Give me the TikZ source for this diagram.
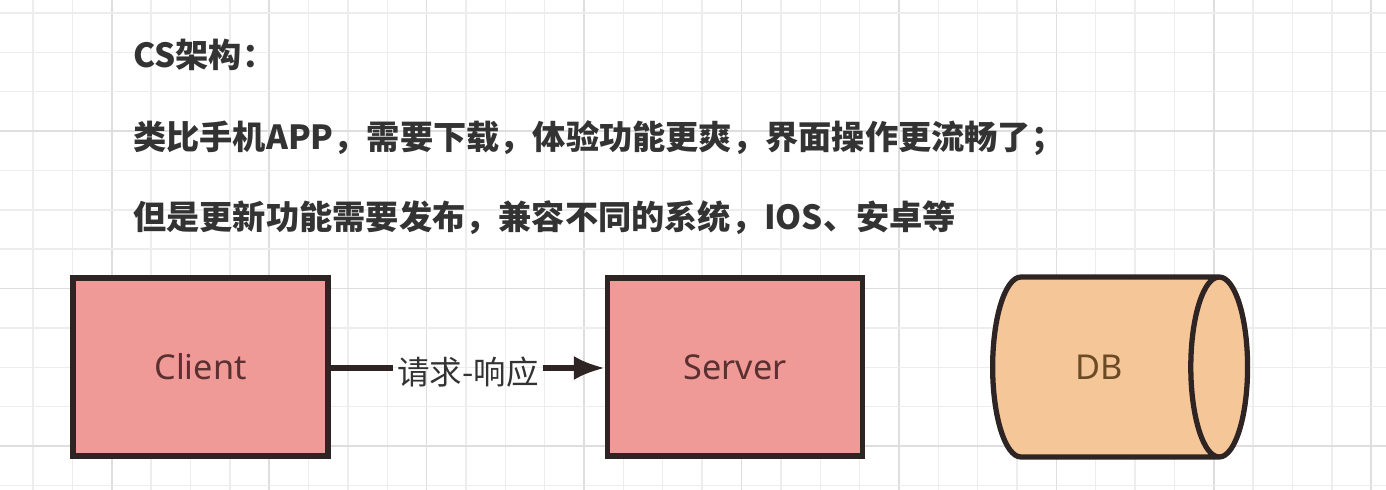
\documentclass[tikz,border=0pt]{standalone}
\usepackage{fontspec}
\setmainfont{Noto Sans}
\newfontfamily\cjk{Noto Sans CJK SC}
\usetikzlibrary{arrows.meta,positioning,shapes.geometric}

\definecolor{gridminor}{HTML}{EDEDED}
\definecolor{gridmajor}{HTML}{DEDEDE}
\definecolor{boxfill}{HTML}{F09A98}
\definecolor{dbfill}{HTML}{F5C698}
\definecolor{edgeline}{HTML}{2E2424}
\definecolor{txt}{HTML}{333333}
\definecolor{boxtxt}{HTML}{5A3030}
\definecolor{dbtxt}{HTML}{6B4A26}

\tikzset{
    box/.style={draw=edgeline, line width=3pt, fill=boxfill,
        minimum width=5.1cm, minimum height=3.56cm,
        text=boxtxt, font=\fontsize{19.5pt}{22pt}\selectfont},
    dbnode/.style={cylinder, draw=edgeline, line width=3pt, fill=dbfill,
        minimum height=5.1cm, minimum width=3.6cm, shape aspect=1.57,
        text=dbtxt, font=\fontsize{19.5pt}{22pt}\selectfont},
    headline/.style={anchor=west, text=txt, inner sep=0pt,
        font=\cjk\bfseries\fontsize{18.9pt}{21pt}\selectfont},
}

\begin{document}
\begin{tikzpicture}[x=0.02cm,y=-0.02cm]
    \pgfmathsetmacro{\gap}{39.36}
    % Draw background grid
    \useasboundingbox[fill=white] (0,0) rectangle (1386,490);
    \foreach \k in {-1,...,35} {
        \pgfmathsetmacro{\xx}{33+\k*\gap}
        \pgfmathtruncatemacro{\km}{mod(\k+8,4)}
        \ifnum\km=2
            \draw[gridmajor, line width=0.9pt] (\xx,0) -- (\xx,490);
        \else
            \draw[gridminor, line width=0.8pt] (\xx,0) -- (\xx,490);
        \fi
    }
    \foreach \k in {0,...,12} {
        \pgfmathsetmacro{\yy}{13+\k*\gap}
        \pgfmathtruncatemacro{\km}{mod(\k,4)}
        \ifnum\km=3
            \draw[gridmajor, line width=0.9pt] (0,\yy) -- (1386,\yy);
        \else
            \draw[gridminor, line width=0.8pt] (0,\yy) -- (1386,\yy);
        \fi
    }

    % Text lines
    \node[headline] (title) at (133,55) {CS架构：};
    \node[headline] (lineA) at (133,138) {类比手机APP，需要下载，体验功能更爽，界面操作更流畅了；};
    \node[headline] (lineB) at (133,218) {但是更新功能需要发布，兼容不同的系统，IOS、安卓等};

    % Draw nodes
    \node[box] (client) at (200.5,367) {Client};
    \node[box] (server) at (735,367) {Server};
    \node[dbnode, anchor=west] (db) at (990,367) {DB};

    % Request-response edge
    \node[text=txt, inner sep=2pt, font=\cjk\fontsize{18.5pt}{21pt}\selectfont]
        (req) at (468,372) {请求-响应};
    \draw[edgeline, line width=3pt] (client.east |- 0,368) -- (req.west |- 0,368);
    \draw[edgeline, line width=3pt, -{Latex[length=0.62cm,width=0.48cm]}]
        (req.east |- 0,368) -- (server.west |- 0,368);
\end{tikzpicture}
\end{document}
